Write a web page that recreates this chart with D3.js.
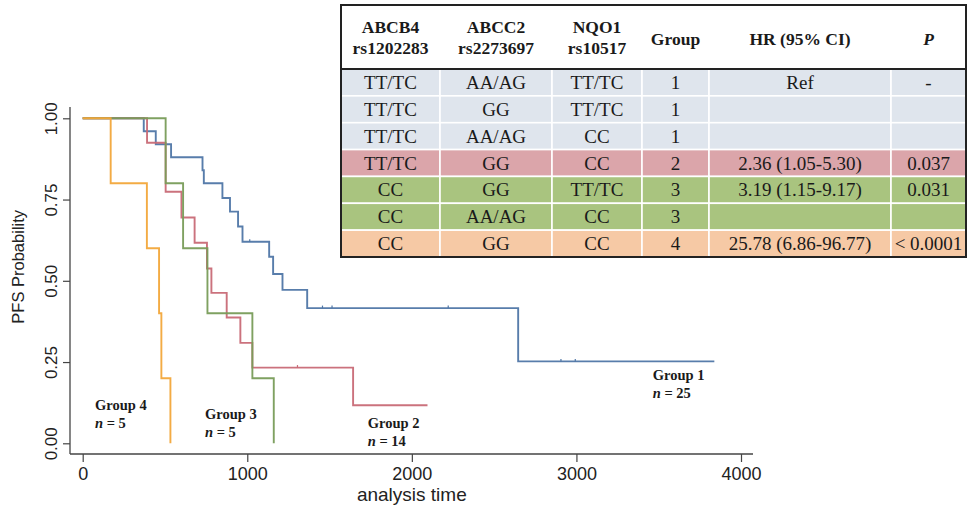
<!DOCTYPE html>
<html>
<head>
<meta charset="utf-8">
<style>
  body { margin: 0; background: #fff; }
  svg { display: block; overflow: visible; }
  .axis text { font-family: 'Liberation Sans', Arial, sans-serif; fill: #222; }
  .axis line, .axis path { stroke: #444; }
  .tbl text { font-family: 'Liberation Serif', 'Times New Roman', serif; fill: #1a1a1a; }
  .lbl { font-family: 'Liberation Serif', 'Times New Roman', serif; font-weight: bold; fill: #1a1a1a; }
</style>
</head>
<body>
<svg width="968" height="507"></svg>
<script src="https://d3js.org/d3.v7.min.js"></script>
<script>
// Kaplan-Meier steps (time in days, survival prob)
let g1Time = [0, 371, 444, 537, 728, 736, 849, 895, 944, 971, 1133, 1157, 1214, 1364, 2646, 3838]
let g1Surv = [1, 0.96, 0.92, 0.88, 0.84, 0.80, 0.755, 0.713, 0.667, 0.62, 0.574, 0.521, 0.472, 0.416, 0.252, 0.252]
let g1Cens = [1015, 1457, 1515, 2221, 2906, 2993]

let g2Time = [0, 391, 504, 600, 680, 755, 782, 875, 958, 1031, 1643, 2095]
let g2Surv = [1, 0.925, 0.774, 0.695, 0.617, 0.538, 0.463, 0.387, 0.309, 0.233, 0.117, 0.117]
let g2Cens = [1305]

let g3Time = [0, 504, 610, 758, 1031, 1161]
let g3Surv = [1, 0.8, 0.6, 0.4, 0.2, 0]

let g4Time = [0, 170, 390, 464, 478, 533]
let g4Surv = [1, 0.8, 0.6, 0.4, 0.2, 0]

let groupNames = ["Group 1", "Group 2", "Group 3", "Group 4"]
let groupN = [25, 14, 5, 5]
let groupColors = ["#4f76a6", "#c86a76", "#789c58", "#f2a73a"]

let xTicks = [0, 1000, 2000, 3000, 4000]
let yTicks = [0, 0.25, 0.5, 0.75, 1]

// table columns
let tblHead1 = ["ABCB4", "ABCC2", "NQO1", "Group", "HR (95% CI)", "P"]
let tblHead2 = ["rs1202283", "rs2273697", "rs10517", "", "", ""]
let colAbcb4 = ["TT/TC", "TT/TC", "TT/TC", "TT/TC", "CC", "CC", "CC"]
let colAbcc2 = ["AA/AG", "GG", "AA/AG", "GG", "GG", "AA/AG", "GG"]
let colNqo1 = ["TT/TC", "TT/TC", "CC", "CC", "TT/TC", "CC", "CC"]
let colGroup = [1, 1, 1, 2, 3, 3, 4]
let colHR = ["Ref", "", "", "2.36 (1.05-5.30)", "3.19 (1.15-9.17)", "", "25.78 (6.86-96.77)"]
let colP = ["-", "", "", "0.037", "0.031", "", "< 0.0001"]
let rowFills = ["#dfe5ed", "#dba5aa", "#a9c47f", "#f6c9a5"]

let svg = d3.select("svg")

// plot region
let plot = { left: 70, right: 753, top: 107, bottom: 454 }

let x = d3.scaleLinear().domain([0, 4000]).range([82.7, 741])
let y = d3.scaleLinear().domain([0, 1]).range([443.3, 118.3])

// axis lines (stata style, span the whole plot region)
svg.append("line")
    .attr("x1", plot.left).attr("x2", plot.left)
    .attr("y1", plot.top).attr("y2", plot.bottom)
    .style("stroke", "#444").style("stroke-width", 1.3)
svg.append("line")
    .attr("x1", plot.left).attr("x2", plot.right)
    .attr("y1", plot.bottom).attr("y2", plot.bottom)
    .style("stroke", "#444").style("stroke-width", 1.3)

let yAxis = svg.append("g")
    .attr("class", "axis")
    .attr("transform", `translate(${plot.left},0)`)
    .call(d3.axisLeft(y).tickValues(yTicks).tickFormat(d3.format(".2f")).tickSize(7).tickSizeOuter(0))
yAxis.select(".domain").remove()
yAxis.selectAll(".tick line").style("stroke-width", 1.2)
yAxis.selectAll(".tick text")
    .attr("x", null).attr("dy", null)
    .attr("transform", "translate(-13,0) rotate(-90)")
    .attr("text-anchor", "middle")
    .style("font-size", "17px")

let xAxis = svg.append("g")
    .attr("class", "axis")
    .attr("transform", `translate(0,${plot.bottom})`)
    .call(d3.axisBottom(x).tickValues(xTicks).tickFormat(d3.format("d")).tickSize(8).tickPadding(5).tickSizeOuter(0))
xAxis.select(".domain").remove()
xAxis.selectAll(".tick line").style("stroke-width", 1.2)
xAxis.selectAll(".tick text").style("font-size", "18px")

svg.append("text")
    .attr("class", "axis")
    .attr("x", x(2000)).attr("y", 501)
    .attr("text-anchor", "middle")
    .style("font-family", "'Liberation Sans', Arial, sans-serif")
    .style("font-size", "19px").style("fill", "#222")
    .text("analysis time")

svg.append("text")
    .attr("transform", `translate(24,${y(0.5) - 14}) rotate(-90)`)
    .attr("text-anchor", "middle")
    .style("font-family", "'Liberation Sans', Arial, sans-serif")
    .style("font-size", "16.5px").style("fill", "#222")
    .text("PFS Probability")

// curves
let curves = [
    { t: g1Time, s: g1Surv, c: g1Cens },
    { t: g2Time, s: g2Surv, c: g2Cens },
    { t: g3Time, s: g3Surv, c: [] },
    { t: g4Time, s: g4Surv, c: [] }
]

let line = d3.line()
    .x(d => x(d[0]))
    .y(d => y(d[1]))
    .curve(d3.curveStepAfter)

// step value at a given time (for censor ticks)
function survAt(cv, t) {
    let idx = d3.bisectRight(cv.t, t) - 1
    return cv.s[Math.max(idx, 0)]
}

curves.forEach((cv, i) => {
    let pts = cv.t.map((t, j) => [t, cv.s[j]])
    svg.append("path")
        .attr("d", line(pts))
        .style("fill", "none")
        .style("stroke", groupColors[i])
        .style("stroke-width", 1.9)
        .style("stroke-opacity", 0.95)

    svg.append("g").selectAll("line")
        .data(cv.c)
        .join("line")
        .attr("x1", d => x(d)).attr("x2", d => x(d))
        .attr("y1", d => y(survAt(cv, d)) - 2.5)
        .attr("y2", d => y(survAt(cv, d)))
        .style("stroke", groupColors[i])
        .style("stroke-width", 1.2)
})

// group labels
let labelPos = [[652.7, 380], [367.7, 428], [205, 419], [95, 410]]
labelPos.forEach((p, i) => {
    svg.append("text").attr("class", "lbl")
        .attr("x", p[0]).attr("y", p[1])
        .style("font-size", "14.5px")
        .text(groupNames[i])
    let t = svg.append("text").attr("class", "lbl")
        .attr("x", p[0]).attr("y", p[1] + 18)
        .style("font-size", "14.5px")
    t.append("tspan").style("font-style", "italic").text("n")
    t.append("tspan").text(" = " + groupN[i])
})

// ---- table ----
let colEdges = [341, 440, 552, 642, 709, 891, 966]
let tblTop = 5, headBottom = 69, tblBottom = 257

let rowScale = d3.scaleBand()
    .domain(d3.range(colGroup.length))
    .range([headBottom, tblBottom])

let tbl = svg.append("g").attr("class", "tbl")

tbl.append("rect")
    .attr("x", colEdges[0]).attr("y", tblTop)
    .attr("width", colEdges[6] - colEdges[0]).attr("height", headBottom - tblTop)
    .style("fill", "#fff")

let cols = [colAbcb4, colAbcc2, colNqo1, colGroup, colHR, colP]

// cell backgrounds
colGroup.forEach((g, r) => {
    for (let c = 0; c < 6; c++) {
        tbl.append("rect")
            .attr("x", colEdges[c]).attr("y", rowScale(r))
            .attr("width", colEdges[c + 1] - colEdges[c])
            .attr("height", rowScale.bandwidth())
            .style("fill", rowFills[g - 1])
            .style("stroke", "#fff").style("stroke-width", 1.6)
    }
})

// header text
tblHead1.forEach((h, c) => {
    let cx = (colEdges[c] + colEdges[c + 1]) / 2
    let two = tblHead2[c] !== ""
    tbl.append("text")
        .attr("x", cx).attr("y", two ? 33 : 45)
        .attr("text-anchor", "middle")
        .style("font-weight", "bold").style("font-size", "17.5px")
        .style("font-style", h === "P" ? "italic" : "normal")
        .text(h)
    if (two) {
        tbl.append("text")
            .attr("x", cx).attr("y", 54)
            .attr("text-anchor", "middle")
            .style("font-weight", "bold").style("font-size", "17.5px")
            .text(tblHead2[c])
    }
})

// body text
cols.forEach((col, c) => {
    let cx = (colEdges[c] + colEdges[c + 1]) / 2
    tbl.append("g").selectAll("text")
        .data(col)
        .join("text")
        .attr("x", cx)
        .attr("y", (d, r) => rowScale(r) + rowScale.bandwidth() / 2 + 6.5)
        .attr("text-anchor", "middle")
        .style("font-size", "19px")
        .text(d => d)
})

// header bottom rule and outer border
tbl.append("line")
    .attr("x1", colEdges[0]).attr("x2", colEdges[6])
    .attr("y1", headBottom).attr("y2", headBottom)
    .style("stroke", "#222").style("stroke-width", 2)
tbl.append("rect")
    .attr("x", colEdges[0]).attr("y", tblTop)
    .attr("width", colEdges[6] - colEdges[0]).attr("height", tblBottom - tblTop)
    .style("fill", "none").style("stroke", "#222").style("stroke-width", 2)
</script>
</body>
</html>
